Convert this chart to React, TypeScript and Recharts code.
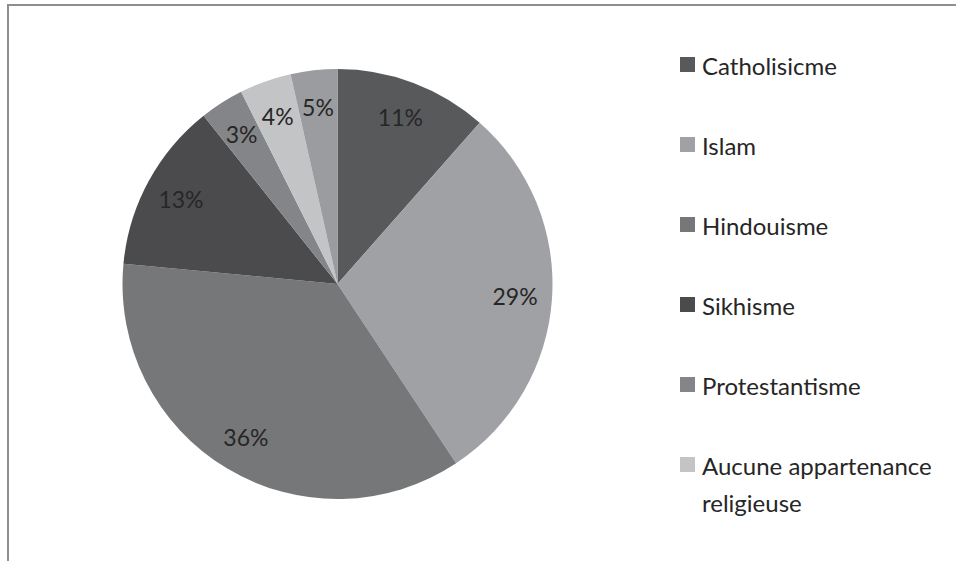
import { PieChart, Pie, Cell, Legend } from 'recharts';

const religions = [
  'Catholisicme',
  'Islam',
  'Hindouisme',
  'Sikhisme',
  'Protestantisme',
  'Aucune appartenance religieuse',
  'Autres',
];
// slice sizes
const shares = [11.5, 29.2, 35.8, 12.8, 3.3, 3.9, 3.5];
// percentage labels as printed on the slices
const sliceLabels = ['11%', '29%', '36%', '13%', '3%', '4%', '5%'];
const colors = ['#58595b', '#a0a1a4', '#767779', '#4b4b4d', '#848588', '#c3c4c6', '#9b9c9f'];

const data = religions.map((name, i) => ({ name, value: shares[i], label: sliceLabels[i] }));
// the last legend entry falls below the visible frame in the original
const legendItems = data.slice(0, 6);

const FONT = 'Lato, "Open Sans", sans-serif';
const RAD = Math.PI / 180;

function renderLabel(props: any) {
  const { cx, cy, midAngle, outerRadius, index } = props;
  const r = outerRadius - 37;
  const x = cx + r * Math.cos(-midAngle * RAD);
  const y = cy + r * Math.sin(-midAngle * RAD);
  return (
    <text x={x} y={y} fill="#262626" textAnchor="middle" dominantBaseline="central" fontSize={23} fontFamily={FONT}>
      {data[index].label}
    </text>
  );
}

function LegendList() {
  return (
    <div style={{ fontFamily: FONT, fontSize: 24, color: '#262626' }}>
      {legendItems.map((d, i) => (
        <div key={d.name} style={{ display: 'flex', alignItems: 'flex-start', marginBottom: 43, width: 270 }}>
          <span
            style={{
              display: 'inline-block',
              width: 15,
              height: 15,
              background: colors[i],
              marginRight: 7,
              marginTop: 10,
              flexShrink: 0,
            }}
          />
          <span style={{ lineHeight: '37px' }}>{d.name}</span>
        </div>
      ))}
    </div>
  );
}

export default function App() {
  return (
    <div
      style={{
        position: 'absolute',
        left: 7,
        top: 4,
        width: 949,
        height: 557,
        overflow: 'hidden',
        borderTop: '2px solid #8e8e8e',
        borderLeft: '2px solid #8e8e8e',
        boxSizing: 'border-box',
        background: '#fff',
      }}
    >
      <PieChart width={947} height={555} margin={{ top: 0, right: 0, bottom: 0, left: 0 }}>
        <Pie
          data={data}
          dataKey="value"
          nameKey="name"
          cx={328.5}
          cy={278}
          outerRadius={215}
          startAngle={90}
          endAngle={-270}
          stroke="none"
          label={renderLabel}
          labelLine={false}
          isAnimationActive={false}
        >
          {data.map((d, i) => (
            <Cell key={d.name} fill={colors[i]} />
          ))}
        </Pie>
        <Legend
          content={() => <LegendList />}
          wrapperStyle={{ position: 'absolute', left: 671, top: 41, width: 276 }}
        />
      </PieChart>
    </div>
  );
}
